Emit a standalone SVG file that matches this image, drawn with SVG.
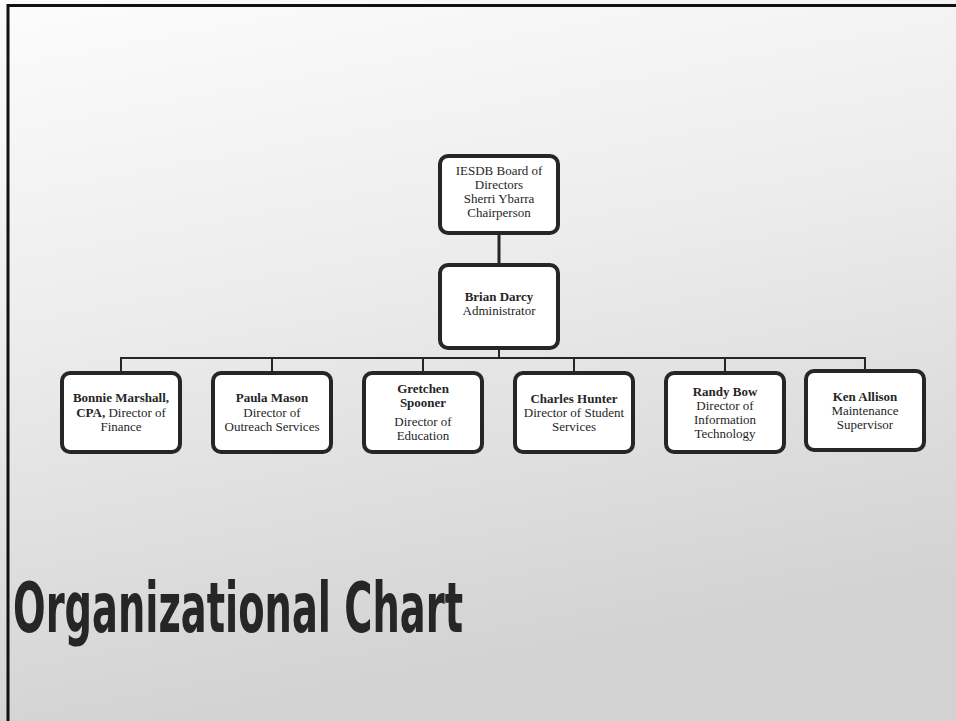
<svg xmlns="http://www.w3.org/2000/svg" width="956" height="721" viewBox="0 0 956 721">
  <defs>
    <linearGradient id="bg" x1="0" y1="0" x2="0.25" y2="1">
      <stop offset="0" stop-color="#fcfcfc"/>
      <stop offset="0.45" stop-color="#ececec"/>
      <stop offset="1" stop-color="#d2d2d2"/>
    </linearGradient>
  </defs>
  <style>
    .box { fill: #ffffff; stroke: #262626; stroke-width: 4; }
    .link { fill: none; stroke: #262626; stroke-width: 2; }
    .t { font-family: "Liberation Serif", "Times New Roman", serif; font-size: 13px; fill: #262626; text-anchor: middle; }
    .b { font-weight: bold; }
    .title { font-family: "Liberation Sans Narrow", "DejaVu Sans Condensed", "Liberation Sans", sans-serif; font-weight: bold; font-size: 70px; fill: #262626; }
  </style>

  <!-- page background and frame -->
  <rect x="0" y="0" width="956" height="721" fill="url(#bg)"/>
  <path d="M8 721 V5.5 H956" fill="none" stroke="#111111" stroke-width="3"/>

  <!-- connectors -->
  <g id="connectors">
    <line class="link" x1="499" y1="233" x2="499" y2="265" style="stroke-width:3"/>
    <line class="link" x1="499" y1="348" x2="499" y2="358"/>
    <line class="link" x1="121" y1="358" x2="865" y2="358"/>
    <line class="link" x1="121" y1="357" x2="121" y2="373"/>
    <line class="link" x1="272" y1="357" x2="272" y2="373"/>
    <line class="link" x1="423" y1="357" x2="423" y2="373"/>
    <line class="link" x1="574" y1="357" x2="574" y2="373"/>
    <line class="link" x1="725" y1="357" x2="725" y2="373"/>
    <line class="link" x1="865" y1="357" x2="865" y2="371"/>
  </g>

  <g id="board">
    <rect class="box" x="440" y="156" width="118" height="77" rx="8"/>
    <text class="t" x="499" y="175">IESDB Board of</text>
    <text class="t" x="499" y="189">Directors</text>
    <text class="t" x="499" y="203">Sherri Ybarra</text>
    <text class="t" x="499" y="217">Chairperson</text>
  </g>

  <g id="administrator">
    <rect class="box" x="440" y="265" width="118" height="83" rx="8"/>
    <text class="t b" x="499" y="301">Brian Darcy</text>
    <text class="t" x="499" y="315">Administrator</text>
  </g>

  <g id="finance">
    <rect class="box" x="62" y="373" width="118" height="79" rx="8"/>
    <text class="t b" x="121" y="402">Bonnie Marshall,</text>
    <text class="t" x="121" y="417"><tspan class="b">CPA,</tspan> Director of</text>
    <text class="t" x="121" y="431">Finance</text>
  </g>

  <g id="outreach">
    <rect class="box" x="213" y="373" width="118" height="79" rx="8"/>
    <text class="t b" x="272" y="402">Paula Mason</text>
    <text class="t" x="272" y="417">Director of</text>
    <text class="t" x="272" y="431">Outreach Services</text>
  </g>

  <g id="education">
    <rect class="box" x="364" y="373" width="118" height="79" rx="8"/>
    <text class="t b" x="423" y="393">Gretchen</text>
    <text class="t b" x="423" y="407">Spooner</text>
    <text class="t" x="423" y="426">Director of</text>
    <text class="t" x="423" y="440">Education</text>
  </g>

  <g id="student-services">
    <rect class="box" x="515" y="373" width="118" height="79" rx="8"/>
    <text class="t b" x="574" y="403">Charles Hunter</text>
    <text class="t" x="574" y="417">Director of Student</text>
    <text class="t" x="574" y="431">Services</text>
  </g>

  <g id="information-technology">
    <rect class="box" x="666" y="373" width="118" height="79" rx="8"/>
    <text class="t b" x="725" y="396">Randy Bow</text>
    <text class="t" x="725" y="410">Director of</text>
    <text class="t" x="725" y="424">Information</text>
    <text class="t" x="725" y="438">Technology</text>
  </g>

  <g id="maintenance">
    <rect class="box" x="806" y="371" width="118" height="79" rx="8"/>
    <text class="t b" x="865" y="401">Ken Allison</text>
    <text class="t" x="865" y="415">Maintenance</text>
    <text class="t" x="865" y="429">Supervisor</text>
  </g>

  <text class="title" x="13" y="632" textLength="450" lengthAdjust="spacingAndGlyphs">Organizational Chart</text>
</svg>
